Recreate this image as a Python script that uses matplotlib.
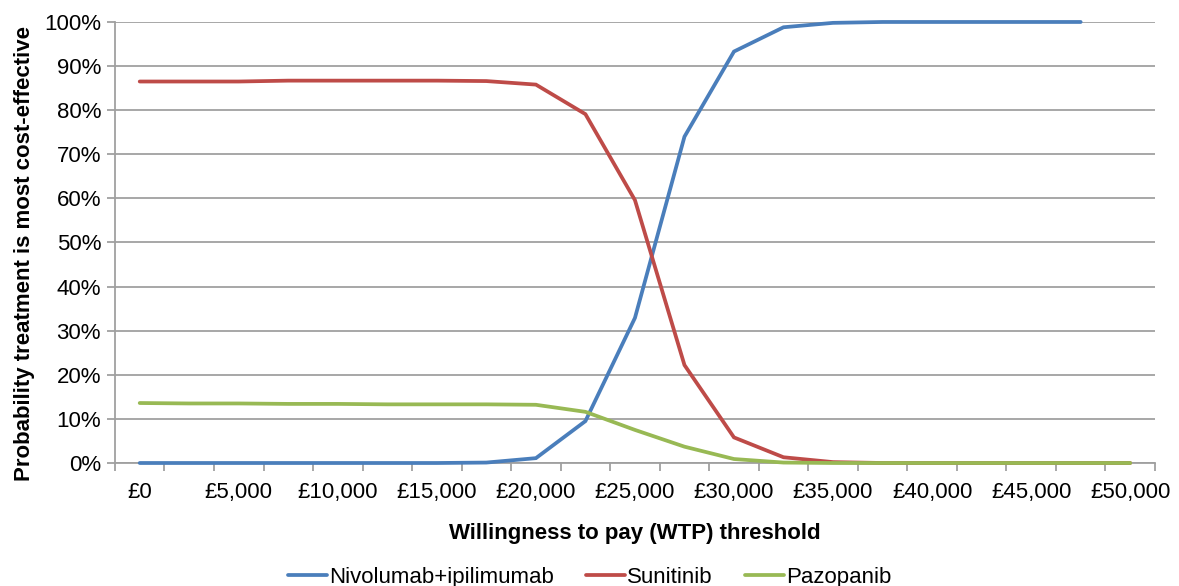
#!/usr/bin/env python3
import numpy as np

import matplotlib as mpl
mpl.use("Agg")
import matplotlib.pyplot as plt
from matplotlib.ticker import PercentFormatter, FixedLocator

plt.rcParams['font.family'] = ['Liberation Sans', 'DejaVu Sans']
plt.rcParams['font.size'] = 16

wtp = [0, 2500, 5000, 7500, 10000, 12500, 15000, 17500, 20000, 22500, 25000,
       27500, 30000, 32500, 35000, 37500, 40000, 42500, 45000, 47500, 50000]

# probability (%) that each treatment is most cost-effective
nivo_ipi = [0, 0, 0, 0, 0, 0, 0, 0.1, 1.1, 9.5, 32.9,
            74.0, 93.3, 98.8, 99.8, 100, 100, 100, 100, 100, np.nan]
sunitinib = [86.5, 86.5, 86.5, 86.7, 86.7, 86.7, 86.7, 86.6, 85.8, 79.1, 59.6,
             22.2, 5.8, 1.3, 0.2, 0, 0, 0, 0, 0, 0]
pazopanib = [13.6, 13.5, 13.5, 13.4, 13.4, 13.3, 13.3, 13.3, 13.2, 11.6, 7.5,
             3.7, 0.9, 0.1, 0, 0, 0, 0, 0, 0, 0]

series = [
    ("Nivolumab+ipilimumab", nivo_ipi, "#4A7EBB"),
    ("Sunitinib", sunitinib, "#BE4B48"),
    ("Pazopanib", pazopanib, "#98B954"),
]


def graph_ceac():
    fig = plt.figure(figsize=(11.79, 5.86), dpi=100)
    ax = fig.add_axes([0.0975, 0.2099, 0.8821, 0.7526])

    xs = np.arange(len(wtp))
    for label, ys, colour in series:
        ax.plot(xs, np.array(ys) / 100, label=label, color=colour,
                linewidth=2.7, solid_capstyle='round', solid_joinstyle='miter',
                clip_on=False, zorder=3)

    ax.set_xlim(-0.5, len(wtp) - 0.5)
    ax.set_ylim(0, 1)

    ax.yaxis.set_major_locator(FixedLocator(np.linspace(0, 1, 11)))
    ax.yaxis.set_major_formatter(PercentFormatter(1.0, decimals=0))
    ax.grid(axis='y', color='#A0A0A0', linewidth=1.3)
    ax.set_axisbelow(True)

    # category labels on every other point, tick marks between categories
    ax.set_xticks(xs[::2])
    ax.set_xticklabels([f"£{v:,}" for v in wtp[::2]])
    ax.set_xticks(np.arange(-0.5, len(wtp), 1), minor=True)
    ax.tick_params(axis='x', which='major', length=0, pad=14)
    ax.tick_params(axis='x', which='minor', length=6, color='#A0A0A0', width=1.3)
    ax.tick_params(axis='y', length=6, color='#A0A0A0', width=1.3, pad=4)

    for side in ('top', 'right'):
        ax.spines[side].set_visible(False)
    for side in ('left', 'bottom'):
        ax.spines[side].set_color('#A0A0A0')
        ax.spines[side].set_linewidth(1.3)

    ax.set_xlabel('Willingness to pay (WTP) threshold', fontweight='bold', labelpad=14)
    ax.set_ylabel('Probability treatment is most cost-effective', fontweight='bold')
    ax.yaxis.set_label_coords(-0.077, 0.475)

    fig.legend(loc='lower center', bbox_to_anchor=(0.5, -0.037), ncol=3,
               frameon=False, handlelength=1.75, columnspacing=1.45, handletextpad=0.1)

    fig.savefig("out.png", dpi=100)
    plt.close(fig)


if __name__ == "__main__":
    graph_ceac()
